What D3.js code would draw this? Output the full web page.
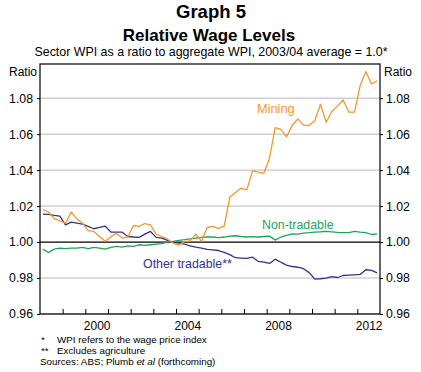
<!DOCTYPE html>
<html>
<head>
<meta charset="utf-8">
<script src="https://cdn.jsdelivr.net/npm/d3@7"></script>
<style>
  body { margin: 0; background: #fff; }
  text { font-family: Arial, "Liberation Sans", sans-serif; }
</style>
</head>
<body>
<div id="viz"></div>
<script>
var width = 421,
  height = 372;

// quarterly observations, 1998Q1 - 2012Q4
var quarters = [
  "1998Q1", "1998Q2", "1998Q3", "1998Q4", "1999Q1", "1999Q2", "1999Q3", "1999Q4",
  "2000Q1", "2000Q2", "2000Q3", "2000Q4", "2001Q1", "2001Q2", "2001Q3", "2001Q4",
  "2002Q1", "2002Q2", "2002Q3", "2002Q4", "2003Q1", "2003Q2", "2003Q3", "2003Q4",
  "2004Q1", "2004Q2", "2004Q3", "2004Q4", "2005Q1", "2005Q2", "2005Q3", "2005Q4",
  "2006Q1", "2006Q2", "2006Q3", "2006Q4", "2007Q1", "2007Q2", "2007Q3", "2007Q4",
  "2008Q1", "2008Q2", "2008Q3", "2008Q4", "2009Q1", "2009Q2", "2009Q3", "2009Q4",
  "2010Q1", "2010Q2", "2010Q3", "2010Q4", "2011Q1", "2011Q2", "2011Q3", "2011Q4",
  "2012Q1", "2012Q2", "2012Q3", "2012Q4"
];

var mining = [
  1.0180, 1.0167, 1.0130, 1.0118, 1.0105, 1.0167, 1.0130, 1.0105, 1.0063, 1.0059,
  1.0031, 1.0004, 1.0030, 1.0048, 1.0022, 1.0028, 1.0092, 1.0087, 1.0103, 1.0096,
  1.0044, 1.0031, 1.0016, 0.9994, 0.9983, 1.0004, 1.0007, 1.0044, 1.0004, 1.0081,
  1.0087, 1.0076, 1.0089, 1.0250, 1.0276, 1.0300, 1.0290, 1.0396, 1.0389, 1.0383,
  1.0466, 1.0636, 1.0626, 1.0585, 1.0648, 1.0685, 1.0650, 1.0648, 1.0676, 1.0766,
  1.0666, 1.0726, 1.0757, 1.0790, 1.0722, 1.0722, 1.0870, 1.0948, 1.0879, 1.0896
];

var nonTradable = [
  0.9961, 0.9942, 0.9961, 0.9966, 0.9963, 0.9966, 0.9966, 0.9970, 0.9963, 0.9970,
  0.9966, 0.9961, 0.9970, 0.9976, 0.9972, 0.9979, 0.9976, 0.9985, 0.9981, 0.9985,
  0.9989, 0.9991, 1.0000, 1.0004, 1.0009, 1.0013, 1.0018, 1.0022, 1.0026, 1.0028,
  1.0028, 1.0025, 1.0028, 1.0033, 1.0035, 1.0031, 1.0028, 1.0030, 1.0028, 1.0031,
  1.0033, 1.0011, 1.0028, 1.0037, 1.0046, 1.0044, 1.0050, 1.0052, 1.0055, 1.0057,
  1.0059, 1.0057, 1.0054, 1.0052, 1.0052, 1.0059, 1.0055, 1.0052, 1.0042, 1.0046
];

var otherTradable = [
  1.0155, 1.0154, 1.0148, 1.0144, 1.0096, 1.0111, 1.0105, 1.0100, 1.0087, 1.0074,
  1.0081, 1.0089, 1.0055, 1.0055, 1.0055, 1.0031, 1.0028, 1.0026, 1.0044, 1.0059,
  1.0026, 1.0022, 1.0009, 0.9998, 0.9994, 0.9989, 0.9979, 0.9972, 0.9966, 0.9959,
  0.9957, 0.9953, 0.9943, 0.9930, 0.9913, 0.9911, 0.9909, 0.9916, 0.9893, 0.9888,
  0.9881, 0.9905, 0.9888, 0.9872, 0.9864, 0.9860, 0.9852, 0.9830, 0.9794, 0.9796,
  0.9799, 0.9808, 0.9803, 0.9814, 0.9816, 0.9818, 0.9820, 0.9846, 0.9842, 0.9829
];

var yTicks = [0.96, 0.98, 1.00, 1.02, 1.04, 1.06, 1.08];
var yearLabels = [2000, 2004, 2008, 2012];

var colors = {
  mining: '#f7962f',
  nonTradable: '#1ea35a',
  otherTradable: '#33338f'
};

var margin = { left: 40, right: 41, top: 64, bottom: 58 };
var plotW = width - margin.left - margin.right,
  plotH = height - margin.top - margin.bottom;

var svg = d3.select('#viz').append('svg')
  .attr('width', width)
  .attr('height', height);

svg.append('rect')
  .attr('width', width)
  .attr('height', height)
  .attr('fill', '#fff');

// time of a quarter label: mid-quarter
function qTime(q) {
  var yr = +q.slice(0, 4), n = +q.slice(5);
  return yr + (n - 0.5) / 4;
}

var x = d3.scaleLinear().domain([1998, 2013]).range([margin.left, margin.left + plotW]);
var y = d3.scaleLinear().domain([0.96, 1.099]).range([margin.top + plotH, margin.top]);

// titles
svg.append('text')
  .attr('x', 211).attr('y', 18)
  .attr('text-anchor', 'middle')
  .attr('font-size', 18.5).attr('font-weight', 'bold')
  .text('Graph 5');

svg.append('text')
  .attr('x', 209).attr('y', 41)
  .attr('text-anchor', 'middle')
  .attr('font-size', 17).attr('font-weight', 'bold')
  .text('Relative Wage Levels');

svg.append('text')
  .attr('x', 211).attr('y', 56)
  .attr('text-anchor', 'middle')
  .attr('font-size', 12.4)
  .text('Sector WPI as a ratio to aggregate WPI, 2003/04 average = 1.0*');

// grid
svg.append('g')
  .selectAll('line')
  .data(yTicks.filter(function (d) { return d !== 1; }))
  .enter().append('line')
  .attr('x1', margin.left).attr('x2', margin.left + plotW)
  .attr('y1', function (d) { return y(d); })
  .attr('y2', function (d) { return y(d); })
  .attr('stroke', '#b8b8b8')
  .attr('stroke-width', 1);

// year tick marks (inside, from the bottom)
var tickAxis = d3.axisBottom(x)
  .tickValues(d3.range(1999, 2013))
  .tickSize(-5)
  .tickFormat('');

svg.append('g')
  .attr('transform', 'translate(0,' + (margin.top + plotH) + ')')
  .call(tickAxis)
  .call(function (g) { g.select('.domain').remove(); })
  .selectAll('line').attr('stroke', '#000');

var labelAxis = d3.axisBottom(x)
  .tickValues(yearLabels.map(function (d) { return d + 0.5; }))
  .tickSize(0)
  .tickPadding(7)
  .tickFormat(function (d) { return Math.floor(d); });

svg.append('g')
  .attr('transform', 'translate(0,' + (margin.top + plotH) + ')')
  .call(labelAxis)
  .call(function (g) {
    g.select('.domain').remove();
    g.selectAll('text').attr('font-size', 12).attr('fill', '#000')
      .attr('font-family', 'Arial, "Liberation Sans", sans-serif');
  });

// y axes
var leftAxis = d3.axisLeft(y).tickValues(yTicks).tickSize(3).tickPadding(4).tickFormat(d3.format('.2f'));
var rightAxis = d3.axisRight(y).tickValues(yTicks).tickSize(3).tickPadding(3).tickFormat(d3.format('.2f'));

function styleAxis(g) {
  g.select('.domain').remove();
  g.selectAll('line').attr('stroke', '#000');
  g.selectAll('text').attr('font-size', 12.3).attr('fill', '#000')
    .attr('font-family', 'Arial, "Liberation Sans", sans-serif');
}

svg.append('g')
  .attr('transform', 'translate(' + margin.left + ',0)')
  .call(leftAxis).call(styleAxis);

svg.append('g')
  .attr('transform', 'translate(' + (margin.left + plotW) + ',0)')
  .call(rightAxis).call(styleAxis);

svg.append('text')
  .attr('x', margin.left - 3).attr('y', 76)
  .attr('text-anchor', 'end')
  .attr('font-size', 12)
  .text('Ratio');

svg.append('text')
  .attr('x', margin.left + plotW + 4).attr('y', 76)
  .attr('font-size', 12)
  .text('Ratio');

// 1.00 line
svg.append('line')
  .attr('x1', margin.left).attr('x2', margin.left + plotW)
  .attr('y1', y(1)).attr('y2', y(1))
  .attr('stroke', '#000').attr('stroke-width', 1.2);

// frame
svg.append('rect')
  .attr('x', margin.left).attr('y', margin.top)
  .attr('width', plotW).attr('height', plotH)
  .attr('fill', 'none')
  .attr('stroke', '#000')
  .attr('stroke-width', 1.2);

// lines
var line = d3.line()
  .x(function (d) { return x(d.t); })
  .y(function (d) { return y(d.v); });

function toPoints(values) {
  return values.map(function (v, i) { return { t: qTime(quarters[i]), v: v }; });
}

[
  { key: 'nonTradable', values: nonTradable },
  { key: 'otherTradable', values: otherTradable },
  { key: 'mining', values: mining }
].forEach(function (s) {
  svg.append('path')
    .datum(toPoints(s.values))
    .attr('d', line)
    .attr('fill', 'none')
    .attr('stroke', colors[s.key])
    .attr('stroke-width', 1.3)
    .attr('stroke-linejoin', 'round');
});

// series labels
svg.append('text')
  .attr('x', 257).attr('y', 113)
  .attr('font-size', 12.8)
  .attr('fill', colors.mining)
  .text('Mining');

svg.append('text')
  .attr('x', 262).attr('y', 229)
  .attr('font-size', 12.4)
  .attr('fill', colors.nonTradable)
  .text('Non-tradable');

svg.append('text')
  .attr('x', 143).attr('y', 268)
  .attr('font-size', 12.4)
  .attr('fill', colors.otherTradable)
  .text('Other tradable**');

// footnotes
var notes = svg.append('g').attr('font-size', 9.8);
notes.append('text').attr('x', 41).attr('y', 343).text('*');
notes.append('text').attr('x', 57).attr('y', 343).text('WPI refers to the wage price index');
notes.append('text').attr('x', 41).attr('y', 354).text('**');
notes.append('text').attr('x', 57).attr('y', 354).text('Excludes agriculture');

var src = notes.append('text').attr('x', 40).attr('y', 365);
src.append('tspan').text('Sources: ABS; Plumb ');
src.append('tspan').attr('font-style', 'italic').text('et al');
src.append('tspan').text(' (forthcoming)');
</script>
</body>
</html>
